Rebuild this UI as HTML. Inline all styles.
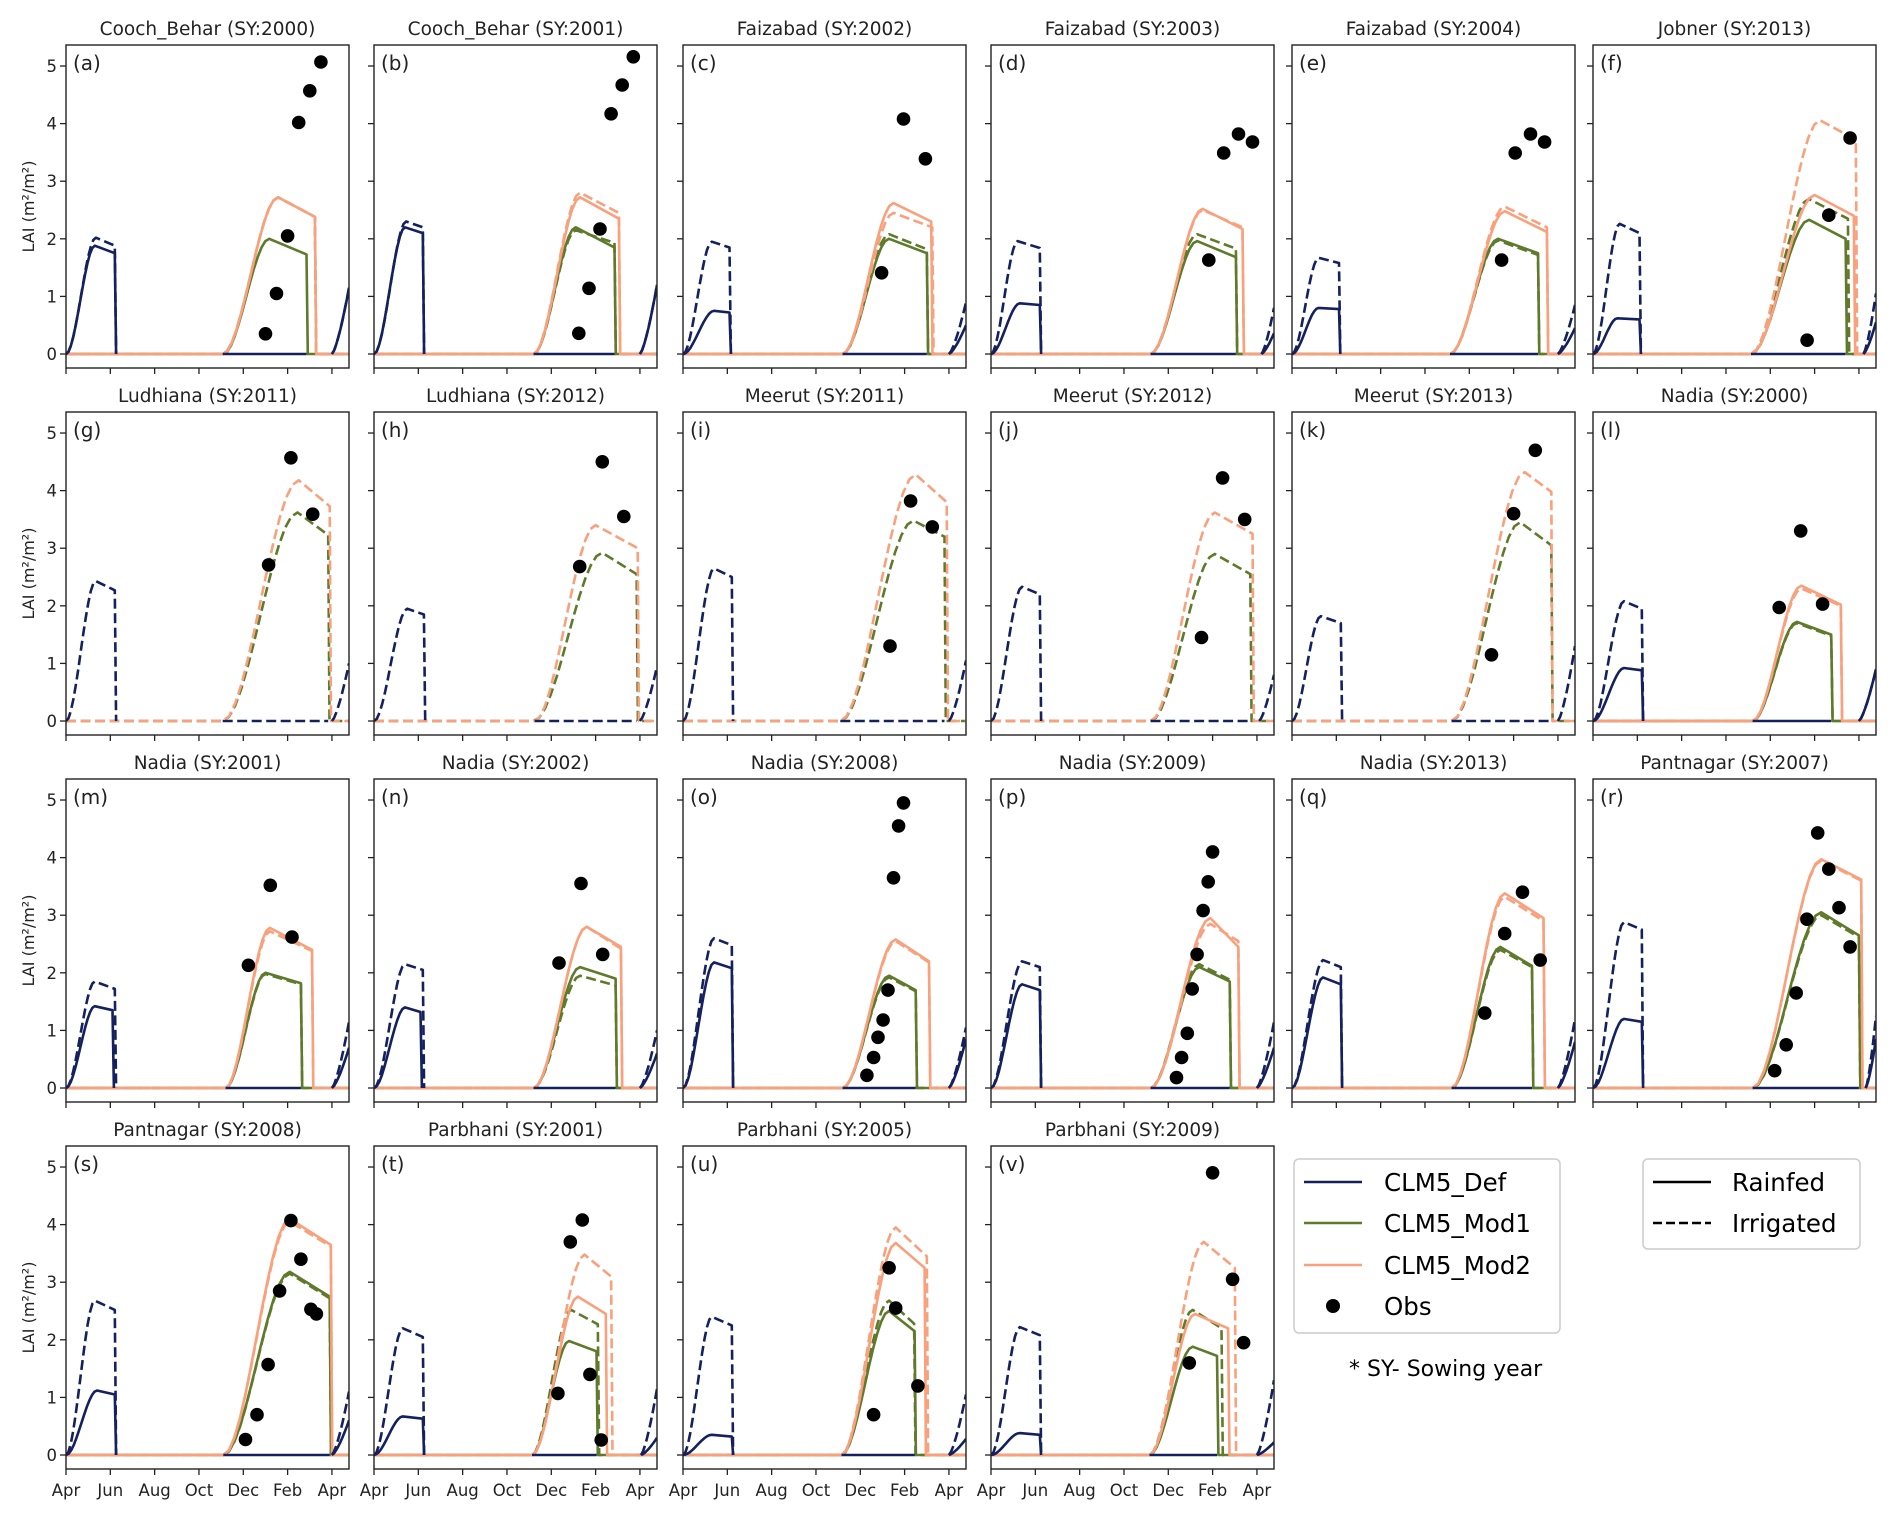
<!DOCTYPE html>
<html><head><meta charset="utf-8">
<style>
html,body{margin:0;padding:0;background:#fff;}
svg{display:block;font-family:"DejaVu Sans","Liberation Sans",sans-serif;}
</style></head>
<body>
<svg id="fig" width="1892" height="1518" viewBox="0 0 1892 1518" xmlns="http://www.w3.org/2000/svg">
<rect x="0" y="0" width="1892" height="1518" fill="#fff"/>
<g id="panels"></g>
<g id="legend">
  <g>
    <rect x="1294" y="1159" width="266" height="174" rx="5" fill="#fff" stroke="#ccc" stroke-width="1.5"/>
    <line x1="1304" y1="1182" x2="1362" y2="1182" stroke="#14215e" stroke-width="2.5"/>
    <text x="1384" y="1191" font-size="24.5" fill="#000">CLM5_Def</text>
    <line x1="1304" y1="1223" x2="1362" y2="1223" stroke="#5e7a2a" stroke-width="2.5"/>
    <text x="1384" y="1232" font-size="24.5" fill="#000">CLM5_Mod1</text>
    <line x1="1304" y1="1265" x2="1362" y2="1265" stroke="#f9a07c" stroke-width="2.5"/>
    <text x="1384" y="1274" font-size="24.5" fill="#000">CLM5_Mod2</text>
    <circle cx="1333" cy="1306" r="7" fill="#000"/>
    <text x="1384" y="1315" font-size="24.5" fill="#000">Obs</text>
  </g>
  <g>
    <rect x="1643" y="1159" width="217" height="90" rx="5" fill="#fff" stroke="#ccc" stroke-width="1.5"/>
    <line x1="1653" y1="1182" x2="1711" y2="1182" stroke="#000" stroke-width="2.5"/>
    <text x="1732" y="1191" font-size="24.5" fill="#000">Rainfed</text>
    <line x1="1653" y1="1223" x2="1711" y2="1223" stroke="#000" stroke-width="2.5" stroke-dasharray="9,4"/>
    <text x="1732" y="1232" font-size="24.5" fill="#000">Irrigated</text>
  </g>
  <text x="1349" y="1376" font-size="22" fill="#000">* SY- Sowing year</text>
</g>
</svg>
<script>
const panelTitles=["Cooch_Behar (SY:2000)","Cooch_Behar (SY:2001)","Faizabad (SY:2002)","Faizabad (SY:2003)","Faizabad (SY:2004)","Jobner (SY:2013)",
"Ludhiana (SY:2011)","Ludhiana (SY:2012)","Meerut (SY:2011)","Meerut (SY:2012)","Meerut (SY:2013)","Nadia (SY:2000)",
"Nadia (SY:2001)","Nadia (SY:2002)","Nadia (SY:2008)","Nadia (SY:2009)","Nadia (SY:2013)","Pantnagar (SY:2007)",
"Pantnagar (SY:2008)","Parbhani (SY:2001)","Parbhani (SY:2005)","Parbhani (SY:2009)"];
const panelLetters=["a","b","c","d","e","f","g","h","i","j","k","l","m","n","o","p","q","r","s","t","u","v"];
const xTickLabels=["Apr","Jun","Aug","Oct","Dec","Feb","Apr"];
const xTickMonths=[0,2,4,6,8,10,12];
const yTickValues=[0,1,2,3,4,5];
const defRain=[[0,1.3,1.88,2.2,1.75],[0,1.4,2.2,2.2,2.1],[0,1.4,0.75,2.1,0.72],[0,1.3,0.88,2.2,0.85],[0,1.2,0.8,2.12,0.78],[0,1.1,0.62,2.1,0.6],
null,null,null,null,null,[0,1.4,0.92,2.2,0.88],
[0,1.3,1.42,2.1,1.35],[0,1.4,1.4,2.1,1.32],[0,1.4,2.18,2.2,2.08],[0,1.4,1.8,2.2,1.7],[0,1.4,1.92,2.2,1.8],[0,1.4,1.2,2.2,1.15],
[0,1.4,1.12,2.2,1.05],[0,1.3,0.67,2.2,0.63],[0,1.3,0.35,2.2,0.32],[0,1.3,0.38,2.2,0.35]];
const defIrr=[[0,1.35,2.02,2.2,1.88],[0,1.45,2.3,2.2,2.2],[0,1.3,1.95,2.1,1.85],[0,1.2,1.96,2.2,1.84],[0,1.2,1.67,2.12,1.58],[0,1.2,2.26,2.1,2.1],
[0,1.34,2.43,2.2,2.27],[0,1.5,1.95,2.25,1.85],[0,1.4,2.65,2.2,2.5],[0,1.4,2.33,2.2,2.2],[0,1.3,1.82,2.2,1.7],[0,1.4,2.08,2.2,1.95],
[0,1.3,1.85,2.2,1.72],[0,1.4,2.15,2.2,2.05],[0,1.4,2.6,2.2,2.48],[0,1.4,2.2,2.2,2.1],[0,1.4,2.22,2.2,2.1],[0,1.4,2.88,2.2,2.75],
[0,1.3,2.68,2.2,2.52],[0,1.3,2.2,2.2,2.05],[0,1.3,2.4,2.2,2.25],[0,1.3,2.22,2.2,2.08]];
const mod1Rain=[[7.1,9.17,2.0,10.85,1.73],[7.2,9.1,2.2,10.85,1.85],[7.2,9.3,2.0,11.0,1.75],[7.2,9.3,1.96,11.05,1.68],[7.13,9.3,2.0,11.1,1.75],[7.13,9.75,2.33,11.4,2.0],
null,null,null,null,null,[7.2,9.2,1.72,10.75,1.5],
[7.2,9.0,2.0,10.6,1.82],[7.2,9.3,2.1,10.9,1.9],[7.2,9.3,1.95,10.5,1.7],[7.2,9.4,2.1,10.77,1.85],[7.2,9.4,2.45,10.83,2.12],[7.2,10.3,3.05,12.0,2.65],
[7.1,10.1,3.18,11.9,2.75],[7.13,8.8,1.98,10.04,1.8],[7.15,9.3,2.5,10.45,2.15],[7.15,9.1,1.88,10.2,1.72]];
const mod1Irr=[[7.07,9.57,2.72,11.23,2.38],[7.2,9.1,2.15,10.85,1.93],[7.2,9.3,2.08,11.0,1.82],[7.2,9.3,2.08,11.05,1.83],[7.13,9.3,1.97,11.1,1.72],[7.13,9.75,2.69,11.5,2.35],
[7.07,10.45,3.62,11.83,3.23],[7.2,10.3,2.92,11.85,2.55],[7.1,10.4,3.48,11.8,3.2],[7.2,10.1,2.9,11.7,2.55],[7.2,10.3,3.45,11.7,3.05],[7.2,9.2,1.7,10.75,1.48],
[7.2,9.0,1.98,10.6,1.8],[7.2,9.3,1.95,10.9,1.78],[7.2,9.3,1.92,10.5,1.68],[7.2,9.4,2.15,10.77,1.88],[7.2,9.4,2.4,10.83,2.1],[7.2,10.3,3.0,12.0,2.62],
[7.1,10.1,3.15,11.9,2.72],[7.13,8.9,2.52,10.1,2.27],[7.15,9.3,2.68,10.43,2.28],[7.15,9.1,2.52,10.4,2.2]];
const mod2Rain=[[7.07,9.57,2.72,11.23,2.38],[7.2,9.3,2.72,11.05,2.35],[7.2,9.5,2.62,11.2,2.3],[7.2,9.55,2.52,11.35,2.17],[7.13,9.6,2.48,11.5,2.12],[7.13,10.0,2.76,11.77,2.4],
null,null,null,null,null,[7.2,9.4,2.35,11.18,2.02],
[7.2,9.2,2.78,11.1,2.4],[7.2,9.6,2.8,11.14,2.45],[7.2,9.6,2.58,11.1,2.2],[7.2,9.9,2.95,11.16,2.45],[7.2,9.6,3.38,11.35,2.95],[7.2,10.3,3.97,12.1,3.62],
[7.1,10.1,4.1,11.95,3.65],[7.13,9.2,2.75,10.46,2.45],[7.15,9.6,3.68,10.9,3.25],[7.15,9.2,2.45,10.7,2.2]];
const mod2Irr=[[7.07,9.57,2.72,11.23,2.38],[7.2,9.3,2.8,11.05,2.45],[7.2,9.5,2.45,11.25,2.2],[7.2,9.55,2.5,11.35,2.2],[7.13,9.6,2.56,11.5,2.2],[7.13,10.24,4.06,11.86,3.72],
[7.07,10.5,4.18,11.9,3.73],[7.25,10.0,3.4,11.9,3.0],[7.1,10.5,4.28,11.9,3.8],[7.2,10.1,3.62,11.8,3.25],[7.2,10.5,4.32,11.7,3.98],[7.2,9.4,2.3,11.18,2.0],
[7.2,9.2,2.72,11.1,2.38],[7.2,9.6,2.8,11.14,2.42],[7.2,9.6,2.55,11.1,2.18],[7.2,9.9,2.85,11.16,2.55],[7.2,9.6,3.32,11.35,2.9],[7.2,10.3,3.95,12.1,3.6],
[7.1,10.1,4.05,11.95,3.62],[7.13,9.5,3.48,10.7,3.1],[7.15,9.6,3.95,11.0,3.45],[7.15,9.6,3.7,11.0,3.25]];
const defNextRain=[[12.0,1.15],[12.0,1.2],[12.0,0.5],[12.2,0.36],[12.0,0.45],[12.2,0.55],
null,null,null,null,null,[12.0,0.9],
[12.0,0.7],[12.0,0.6],[12.0,0.85],[12.0,0.7],[12.0,0.8],[12.3,0.85],
[12.0,0.6],[12.05,0.3],[12.0,0.28],[12.0,0.22]];
const defNextIrr=[[12.0,1.15],[12.0,1.2],[12.0,0.9],[12.2,0.8],[12.0,0.85],[12.2,1.05],
[12.0,1.0],[12.0,0.95],[12.0,1.05],[12.1,0.8],[12.0,1.3],[12.0,0.9],
[12.0,1.15],[12.0,1.0],[12.0,1.05],[12.0,1.15],[12.0,1.2],[12.3,1.25],
[12.0,1.1],[12.05,1.15],[12.0,1.05],[12.0,1.3]];
const obsMonths=[[9.0,9.5,10.0,10.5,11.0,11.5],[9.24,9.7,10.2,10.7,11.2,11.7],[8.96,9.95,10.94],[9.83,10.5,11.17,11.8],[9.46,10.07,10.76,11.4],[9.66,10.64,11.6],
[9.14,10.15,11.13],[9.28,10.3,11.27],[9.34,10.27,11.25],[9.5,10.45,11.45],[9.0,10.0,10.98],[8.4,9.37,10.36],
[8.23,9.22,10.2],[8.35,9.34,10.32],[8.3,8.6,8.8,9.03,9.25,9.5,9.73,9.95],[8.37,8.6,8.86,9.08,9.3,9.57,9.8,10.0],[8.7,9.6,10.4,11.2],[8.2,8.72,9.17,9.65,10.14,10.64,11.1,11.6],
[8.1,8.62,9.12,9.64,10.15,10.6,11.05,11.3],[8.3,8.86,9.4,9.74,10.25],[8.6,9.3,9.6,10.6],[8.95,10.0,10.9,11.4]];
const obsValues=[[0.35,1.05,2.05,4.02,4.57,5.07],[0.36,1.14,2.17,4.17,4.67,5.16],[1.41,4.08,3.39],[1.63,3.49,3.82,3.68],[1.63,3.49,3.82,3.68],[0.24,2.41,3.75],
[2.71,4.57,3.59],[2.68,4.5,3.55],[1.3,3.82,3.37],[1.45,4.22,3.5],[1.15,3.6,4.7],[1.97,3.3,2.03],
[2.13,3.52,2.62],[2.17,3.55,2.32],[0.22,0.53,0.88,1.18,1.7,3.65,4.55,4.95],[0.18,0.53,0.95,1.72,2.32,3.08,3.58,4.1],[1.3,2.68,3.4,2.22],[0.3,0.75,1.65,2.93,4.43,3.8,3.13,2.45],
[0.27,0.7,1.57,2.85,4.07,3.4,2.53,2.45],[1.07,3.7,4.08,1.4,0.26],[0.7,3.25,2.55,1.2],[1.6,4.9,3.05,1.95]];

const NS="http://www.w3.org/2000/svg";
const colLefts=[66,374,683,991,1292,1593];
const PW=283,PH=323,ROW0=45,ROWSTEP=367;
const XMAX=12.77, YMIN=-0.243, YMAX=5.365;
const C_DEF="#14215e",C_M1="#5e7a2a",C_M2="#f9a07c";
function mk(tag,attrs,parent){const e=document.createElementNS(NS,tag);for(const k in attrs)e.setAttribute(k,attrs[k]);if(parent)parent.appendChild(e);return e;}
function sstep(t){return t*t*(3-2*t);}
function seasonPts(p,withZeroTails){
  const [s,pk,v,e,ev]=p;const pts=[];
  if(withZeroTails)pts.push([0,0]);
  for(let i=0;i<=12;i++){const t=i/12;pts.push([s+(pk-s)*t,v*sstep(t)]);}
  pts.push([e,ev]);pts.push([e+0.06,0]);
  if(withZeroTails)pts.push([XMAX,0]);
  return pts;
}
function nextPts(n){const pts=[];for(let i=0;i<=8;i++){const t=i/8;pts.push([n[0]+(XMAX-n[0])*t,n[1]*Math.pow(t,1.4)]);}return pts;}
const root=document.getElementById('panels');
panelTitles.forEach((title,i)=>{
  const r=Math.floor(i/6),c=i%6;
  const L=colLefts[c],T=ROW0+r*ROWSTEP;
  const xm=m=>L+m/XMAX*PW;
  const yv=v=>T+(YMAX-v)/(YMAX-YMIN)*PH;
  const g=mk('g',{},root);
  
  
  const cid='clip'+i;
  const cp=mk('clipPath',{id:cid},g);mk('rect',{x:L,y:T,width:PW,height:PH},cp);
  const plot=mk('g',{'clip-path':'url(#'+cid+')'},g);
  function line(pts,color,dashed,name){
    const d=pts.map((p,k)=>(k?'L':'M')+xm(p[0]).toFixed(1)+','+yv(p[1]).toFixed(1)).join('');
    const el=mk('path',{d:d,fill:'none',stroke:color,'stroke-width':2.6,'stroke-linejoin':'round'},plot);
    if(dashed)el.setAttribute('stroke-dasharray','10,4.5');
    
    
  }
  const drawDef=(p,n,dashed,nm)=>{
    if(!p)return;
    const pts=seasonPts(p,false);pts.unshift([0,0]);
    line(pts,C_DEF,dashed,nm+'-season1');
    if(n)line(nextPts(n),C_DEF,dashed,nm+'-season2');
  };
  const m1w=mod1Rain[i]||mod1Irr[i];
  if(mod1Rain[i])line(seasonPts(mod1Rain[i],true),C_M1,false,'mod1-rainfed-line');
  if(mod1Irr[i])line(seasonPts(mod1Irr[i],true),C_M1,true,'mod1-irrigated-line');
  if(mod2Rain[i])line(seasonPts(mod2Rain[i],true),C_M2,false,'mod2-rainfed-line');
  if(mod2Irr[i])line(seasonPts(mod2Irr[i],true),C_M2,true,'mod2-irrigated-line');
  drawDef(defIrr[i],defNextIrr[i],true,'def-irrigated');
  drawDef(defRain[i],defNextRain[i],false,'def-rainfed');
  const zs=(mod2Rain[i]||mod2Irr[i])[0], ze=m1w[3];
  line([[zs,0],[ze,0]],C_DEF,!defRain[i],'def-zero-window');
  obsMonths[i].forEach((m,k)=>{
    const ci=mk('circle',{cx:xm(m).toFixed(1),cy:yv(obsValues[i][k]).toFixed(1),r:6.8,fill:'#000'},plot);
    
    
  });
  const fr=mk('rect',{x:L,y:T,width:PW,height:PH,fill:'none',stroke:'#222','stroke-width':1.4},g);
  
  
  yTickValues.forEach(v=>{
    mk('line',{x1:L-6,x2:L,y1:yv(v),y2:yv(v),stroke:'#222','stroke-width':1.3},g);
    if(c===0){const t=mk('text',{x:L-9,y:yv(v)+6,'font-size':16.5,'text-anchor':'end',fill:'#222'},g);t.textContent=v;
      
      }
  });
  const bottomRow=(r===3);
  xTickMonths.forEach((m,k)=>{
    mk('line',{x1:xm(m),x2:xm(m),y1:T+PH,y2:T+PH+6,stroke:'#222','stroke-width':1.3},g);
    if(bottomRow){const t=mk('text',{x:xm(m),y:T+PH+27,'font-size':16.5,'text-anchor':'middle',fill:'#222'},g);t.textContent=xTickLabels[k];
      
      }
  });
  if(c===0){
    const cy=T+PH/2;
    const yl=mk('text',{x:34,y:cy,'font-size':16,'text-anchor':'middle',fill:'#222',transform:'rotate(-90 34 '+cy+')'},g);
    yl.textContent='LAI (m²/m²)';
    
    
  }
  const tt=mk('text',{x:L+PW/2,y:T-10,'font-size':18.5,'text-anchor':'middle',fill:'#222'},g);
  tt.textContent=title;
  
  
  const lt=mk('text',{x:L+7,y:T+25,'font-size':20,fill:'#222'},g);
  lt.textContent='('+panelLetters[i]+')';
  
  
});
</script>
</body></html>
